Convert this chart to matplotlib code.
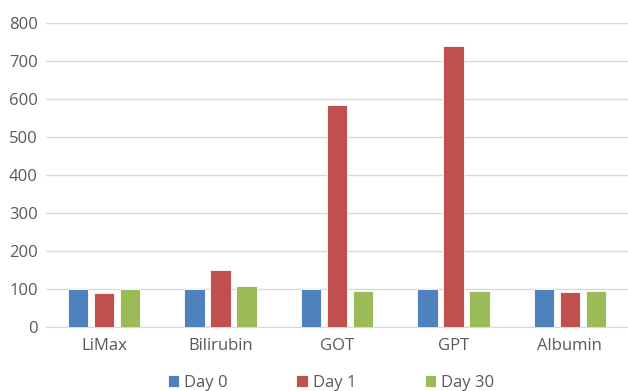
import numpy as np
import matplotlib.pyplot as plt

# data
categories = ["LiMax", "Bilirubin", "GOT", "GPT", "Albumin"]
day0 = [100, 100, 100, 100, 100]
day1 = [89, 150, 585, 740, 91]
day30 = [100, 107, 95, 94, 96]
series_names = ["Day 0", "Day 1", "Day 30"]
colors = ["#4F81BD", "#C0504D", "#9BBB59"]

plt.rcParams['font.family'] = ['Open Sans', 'DejaVu Sans']

fig = plt.figure(figsize=(6.28, 3.91), dpi=100)
ax = fig.add_axes([46 / 628, 1 - 327 / 391, 582 / 628, 304 / 391])

x = np.arange(len(categories))
width = 0.176
step = 0.223
for i, (vals, name, c) in enumerate(zip([day0, day1, day30], series_names, colors)):
    ax.bar(x + (i - 1) * step, vals, width, color=c, label=name,
           edgecolor="white", linewidth=0.6, zorder=3)

ax.set_xlim(-0.5, len(categories) - 0.5)
ax.set_ylim(0, 800)
ax.set_yticks(range(0, 801, 100))
ax.set_xticks(x)
ax.set_xticklabels(categories)
ax.grid(axis="y", color="#D9D9D9", linewidth=1, zorder=0)
for s in ["top", "right", "left"]:
    ax.spines[s].set_visible(False)
ax.spines["bottom"].set_color("#D9D9D9")
ax.tick_params(axis="both", length=0, colors="#595959", labelsize=12)
ax.tick_params(axis="x", pad=8)
ax.tick_params(axis="y", pad=6)

fig.legend(loc="lower center", bbox_to_anchor=(0.527, -0.038), ncol=3, frameon=False,
           fontsize=12, labelcolor="#595959", handlelength=0.7, handleheight=0.7,
           handletextpad=0.3, columnspacing=4.1)

fig.savefig("out.png", dpi=100)
